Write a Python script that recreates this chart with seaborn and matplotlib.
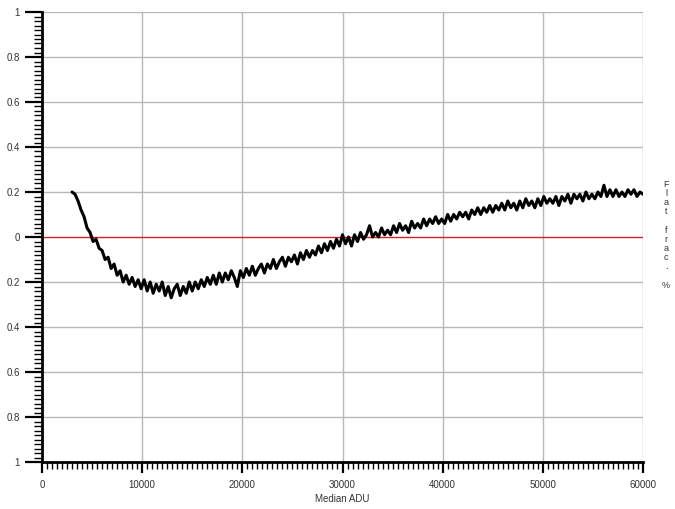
import numpy as np
import pandas as pd
import matplotlib
matplotlib.use("Agg")
import matplotlib.pyplot as plt
from matplotlib.ticker import MultipleLocator, FixedLocator, FixedFormatter
import seaborn as sns

# ---- data ----
x_start = 3000
x_step = 300
residual = [
    0.20, 0.19, 0.16, 0.12, 0.09, 0.04, 0.02, -0.02, -0.01, -0.05,
    -0.06, -0.10, -0.09, -0.14, -0.12, -0.17, -0.15, -0.20, -0.17, -0.21,
    -0.18, -0.22, -0.19, -0.23, -0.19, -0.24, -0.20, -0.25, -0.21, -0.24,
    -0.20, -0.26, -0.22, -0.27, -0.23, -0.21, -0.26, -0.22, -0.25, -0.20,
    -0.24, -0.20, -0.23, -0.19, -0.22, -0.18, -0.21, -0.17, -0.21, -0.16,
    -0.20, -0.16, -0.19, -0.15, -0.18, -0.22, -0.15, -0.18, -0.14, -0.17,
    -0.13, -0.17, -0.14, -0.12, -0.16, -0.12, -0.14, -0.10, -0.14, -0.11,
    -0.09, -0.13, -0.09, -0.11, -0.08, -0.12, -0.07, -0.10, -0.06, -0.09,
    -0.06, -0.08, -0.04, -0.07, -0.03, -0.06, -0.02, -0.05, -0.01, -0.04,
    0.01, -0.03, 0.00, -0.04, 0.01, -0.02, 0.02, -0.01, 0.01, 0.05,
    0.00, 0.02, 0.00, 0.04, 0.01, 0.03, 0.01, 0.05, 0.02, 0.06,
    0.03, 0.05, 0.02, 0.07, 0.04, 0.06, 0.04, 0.08, 0.05, 0.08,
    0.06, 0.09, 0.06, 0.08, 0.06, 0.10, 0.07, 0.10, 0.08, 0.11,
    0.09, 0.11, 0.08, 0.12, 0.10, 0.13, 0.10, 0.13, 0.11, 0.14,
    0.11, 0.14, 0.12, 0.15, 0.12, 0.16, 0.13, 0.15, 0.12, 0.16,
    0.13, 0.17, 0.14, 0.16, 0.13, 0.17, 0.14, 0.18, 0.15, 0.17,
    0.15, 0.18, 0.14, 0.18, 0.16, 0.19, 0.15, 0.19, 0.17, 0.19,
    0.16, 0.20, 0.17, 0.19, 0.17, 0.20, 0.18, 0.23, 0.18, 0.21,
    0.18, 0.21, 0.18, 0.20, 0.18, 0.21, 0.19, 0.21, 0.18, 0.20,
    0.19,
]
y_ticks = [1, 0.8, 0.6, 0.4, 0.2, 0, -0.2, -0.4, -0.6, -0.8, -1]
y_tick_labels = ["1", "0.8", "0.6", "0.4", "0.2", "0", "0.2", "0.4", "0.6", "0.8", "1"]
x_ticks = [0, 10000, 20000, 30000, 40000, 50000, 60000]
x_tick_labels = ["0", "10000", "20000", "30000", "40000", "50000", "60000"]
x_label = "Median ADU"
right_label = "Flat frac. %"

median_adu = [x_start + i * x_step for i in range(len(residual))]
df = pd.DataFrame({"adu": median_adu, "res": residual})

# ---- figure ----
sns.set_style("white")
plt.rcParams["font.family"] = ["Liberation Sans", "DejaVu Sans"]
text_color = "#333333"

fig = plt.figure(figsize=(6.75, 5.09), dpi=100)
ax = fig.add_axes([42 / 675, 1 - 462 / 509, (643 - 42) / 675, (462 - 12) / 509])

ax.set_xlim(0, 60000)
ax.set_ylim(-1, 1)

# grid
for xv in x_ticks[1:]:
    ax.axvline(xv, color="#b8b8b8", lw=1.0, zorder=1)
for yv in y_ticks:
    if yv not in (0, -1):
        ax.axhline(yv, color="#b8b8b8", lw=1.0, zorder=1)
ax.axhline(0, color="#d02222", lw=1.0, zorder=2)

sns.lineplot(data=df, x="adu", y="res", ax=ax, color="black", lw=2.2,
             zorder=3, legend=False)

# spines
for s in ("top", "right"):
    ax.spines[s].set_visible(False)
for s in ("left", "bottom"):
    ax.spines[s].set_color("black")
    ax.spines[s].set_linewidth(2.0)

ax.xaxis.set_major_locator(FixedLocator(x_ticks))
ax.xaxis.set_major_formatter(FixedFormatter(x_tick_labels))
ax.xaxis.set_minor_locator(MultipleLocator(500))
ax.yaxis.set_major_locator(FixedLocator(y_ticks))
ax.yaxis.set_major_formatter(FixedFormatter(y_tick_labels))
ax.yaxis.set_minor_locator(MultipleLocator(0.02))

ax.tick_params(axis="y", which="major", direction="out", length=12, width=1.6,
               color="black", labelsize=7, labelcolor=text_color, pad=4, left=True)
ax.tick_params(axis="y", which="minor", direction="out", length=6, width=1.0,
               color="black", left=True)
ax.tick_params(axis="x", which="major", direction="out", length=8, width=1.6,
               color="black", labelsize=7, labelcolor=text_color, pad=5, bottom=True)
ax.tick_params(axis="x", which="minor", direction="out", length=5, width=1.0,
               color="black", bottom=True)

ax.set_xlabel(x_label, fontsize=7, color=text_color, labelpad=3)
ax.set_ylabel("")

fig.text(666 / 675, 1 - 180 / 509, "\n".join(list(right_label)),
         fontsize=6.5, color=text_color, ha="center", va="top", linespacing=1.02)

fig.savefig("out.png", dpi=100)
